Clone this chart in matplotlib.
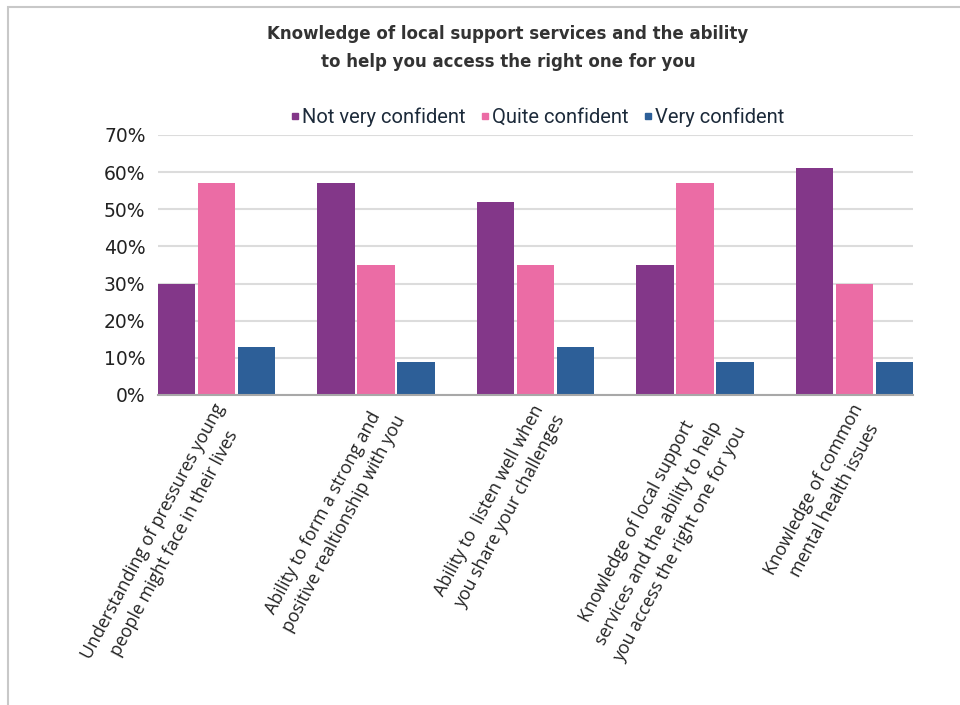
import numpy as np
import matplotlib
matplotlib.use('Agg')
import matplotlib.pyplot as plt
import matplotlib.transforms as mtransforms
from matplotlib.lines import Line2D
from matplotlib.patches import Rectangle

# datos de la encuesta (porcentaje de respuestas)
categorias = [
    'Understanding of pressures young\npeople might face in their lives',
    'Ability to form a strong and\npositive realtionship with you',
    'Ability to  listen well when\nyou share your challenges',
    'Knowledge of local support\nservices and the ability to help\nyou access the right one for you',
    'Knowledge of common\nmental health issues',
]
series = ['Not very confident', 'Quite confident', 'Very confident']
poco_seguro = [30, 57, 52, 35, 61]
bastante_seguro = [57, 35, 35, 57, 30]
muy_seguro = [13, 9, 13, 9, 9]
ticks_y = [0, 10, 20, 30, 40, 50, 60, 70]

colores = ['#833789', '#EB6CA5', '#2D5F98']
titulo = 'Knowledge of local support services and the ability\nto help you access the right one for you'


def main():
    fig = plt.figure(figsize=(9.6, 7.05), dpi=100)
    ax = fig.add_axes([158 / 960, 1 - 395 / 705, 755 / 960, 260 / 705])

    # marco gris alrededor de la figura
    fig.patches.append(Rectangle((8 / 960, -0.01), 1.0, 1 - 7 / 705 + 0.01,
                                 transform=fig.transFigure, fill=False,
                                 edgecolor='#c8c8c8', linewidth=1.5))

    x = np.arange(len(categorias))
    paso = 0.25
    ancho = 0.235
    valores = [poco_seguro, bastante_seguro, muy_seguro]
    for k, (vals, c) in enumerate(zip(valores, colores)):
        ax.bar(x + (k - 1) * paso, vals, width=ancho, color=c, zorder=3)

    ax.set_xlim(-paso - ancho / 2, len(categorias) - 1 + paso + ancho / 2)
    ax.set_ylim(0, 70)
    ax.set_yticks(ticks_y)
    ax.set_yticklabels([f'{v}%' for v in ticks_y], fontsize=13.5, color='#222222')
    ax.tick_params(axis='y', length=0, pad=9)
    ax.grid(axis='y', color='#dcdcdc', linewidth=1.5, zorder=0)
    ax.set_axisbelow(True)
    for lado in ['top', 'right', 'left']:
        ax.spines[lado].set_visible(False)
    ax.spines['bottom'].set_color('#a8a8a8')
    ax.spines['bottom'].set_linewidth(1.5)
    ax.spines['bottom'].set_zorder(4)

    # etiquetas giradas: el extremo de la primera linea queda bajo el centro del grupo
    ax.set_xticks(x)
    ax.set_xticklabels(categorias, rotation=62, ha='right', va='top',
                       rotation_mode='anchor', multialignment='center',
                       fontsize=12.8, color='#222222', family='Open Sans',
                       linespacing=1.45)
    ax.tick_params(axis='x', length=0, pad=0)
    desplazamiento = mtransforms.ScaledTranslation(-4 / 100, -6 / 100, fig.dpi_scale_trans)
    for etiqueta in ax.get_xticklabels():
        etiqueta.set_transform(etiqueta.get_transform() + desplazamiento)

    fig.text(508 / 960, 1 - 48 / 705, titulo, ha='center', va='center',
             fontsize=12, fontweight='bold', color='#333333',
             family='DejaVu Sans', linespacing=1.7)

    manijas = [Line2D([], [], marker='s', linestyle='none', markersize=4,
                      color=c) for c in colores]
    fig.legend(manijas, series, loc='center', bbox_to_anchor=(537 / 960, 1 - 117 / 705),
               ncol=3, frameon=False, prop={'family': 'Roboto', 'size': 14.5},
               handlelength=0.5, handletextpad=0.1, columnspacing=0.7,
               labelcolor='#1c2a3a')

    fig.savefig('out.png', dpi=100)


if __name__ == '__main__':
    main()
